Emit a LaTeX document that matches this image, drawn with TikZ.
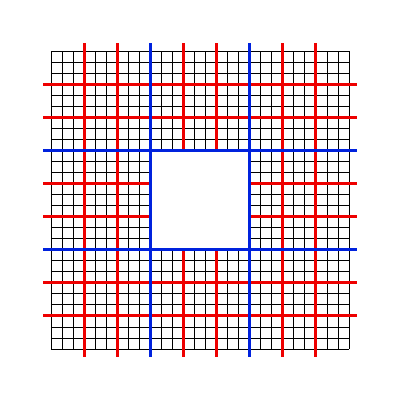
\documentclass[tikz,border=0pt]{standalone}
\begin{document}
\begin{tikzpicture}[x=0.27593cm,y=0.27593cm,
  fine/.style={black,line width=0.6pt},
  redline/.style={draw={rgb,255:red,238;green,0;blue,0},line width=2.1pt},
  blueline/.style={draw={rgb,255:red,0;green,34;blue,221},line width=2.1pt}]
\useasboundingbox (-4.62,-4.62) rectangle (31.62,31.62);
\fill[white] (-4.62,-4.62) rectangle (31.62,31.62);
% fine grid
\foreach \i in {0,...,27}{
  \draw[fine] (\i,0) -- (\i,27);
  \draw[fine] (0,\i) -- (27,\i);
}
% red lines
\foreach \c in {3,6,12,15,21,24}{
  \draw[redline] (\c,-0.72) -- (\c,27.72);
  \draw[redline] (-0.72,\c) -- (27.72,\c);
}
% hole
\fill[white] (9,9) rectangle (18,18);
% blue lines
\foreach \c in {9,18}{
  \draw[blueline] (\c,-0.72) -- (\c,27.72);
  \draw[blueline] (-0.72,\c) -- (27.72,\c);
}
\end{tikzpicture}
\end{document}
